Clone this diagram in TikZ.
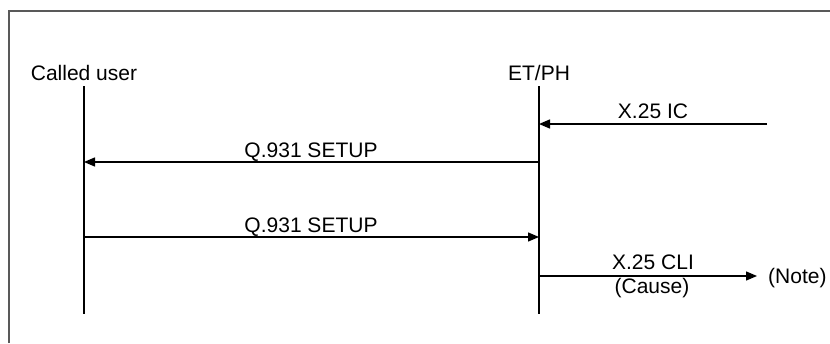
\documentclass[tikz,border=0pt]{standalone}
\usepackage{fontspec}
\setmainfont{Liberation Sans}
\usetikzlibrary{arrows.meta}
\begin{document}
\begin{tikzpicture}[x=1pt,y=-1pt,
  lbl/.style={font=\fontsize{21}{25}\selectfont, inner sep=0pt, anchor=base},
  life/.style={line width=1.4pt, black},
  msg/.style={line width=1.4pt, black, -{Triangle[length=11pt,width=9pt]}},
  frameline/.style={line width=2pt, black!65}]
\useasboundingbox (0,0) rectangle (830,343);
\draw[frameline] (8.7,343) -- (8.7,11) -- (830,11);
% entities
\node[lbl] (cu) at (84,80) {Called user};
\node[lbl] (et) at (539,80) {ET/PH};
\coordinate (cuTop) at (84,86);
\coordinate (cuBot) at (84,314);
\coordinate (etTop) at (539,86);
\coordinate (etBot) at (539,314);
\draw[life] (cuTop) -- (cuBot);
\draw[life] (etTop) -- (etBot);
% message endpoints
\coordinate (icStart) at (767,124);
\coordinate (icEnd) at (539,124);
\coordinate (s1Start) at (539,162);
\coordinate (s1End) at (84,162);
\coordinate (s2Start) at (84,237);
\coordinate (s2End) at (539,237);
\coordinate (cliStart) at (539,276);
\coordinate (cliEnd) at (757,276);
\draw[msg] (icStart) -- (icEnd);
\draw[msg] (s1Start) -- (s1End);
\draw[msg] (s2Start) -- (s2End);
\draw[msg] (cliStart) -- (cliEnd);
% labels
\node[lbl] (lic) at (653,118) {X.25 IC};
\node[lbl] (ls1) at (311,157) {Q.931 SETUP};
\node[lbl] (ls2) at (311,232) {Q.931 SETUP};
\node[lbl] (lcli) at (653,269) {X.25 CLI};
\node[lbl] (lcause) at (652,293) {(Cause)};
\node[lbl, anchor=base west] (lnote) at (768,283) {(Note)};
\end{tikzpicture}
\end{document}
